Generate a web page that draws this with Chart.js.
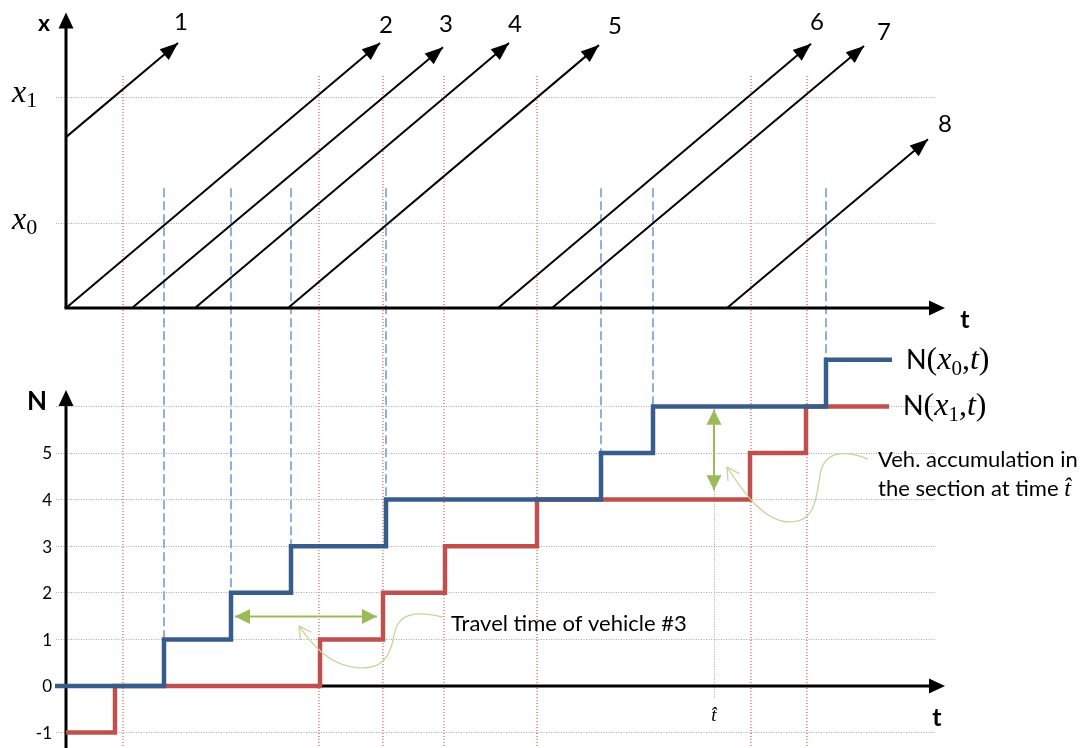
<!DOCTYPE html>
<html><head><meta charset="utf-8">
<script src="https://cdn.jsdelivr.net/npm/chart.js@4.4.1/dist/chart.umd.min.js"></script>
<style>html,body{margin:0;padding:0;background:#fff;}#wrap{position:relative;width:1089px;height:748px;}</style>
</head><body><div id="wrap"><canvas id="c" width="1089" height="748"></canvas></div>
<script>
// ---------------- data ----------------
const sectionSubs = ['0', '1'];
const sectionPos = [2, 5];                 // x0, x1 (space units)
const vehicleIds = ['1', '2', '3', '4', '5', '6', '7', '8'];
const vehStartT = [0, 0, 6.6, 12.9, 22.2, 43.2, 48.6, 66.1];
const vehStartX = [4.05, 0, 0, 0, 0, 0, 0, 0];
const vehEndT = [11.2, 31.4, 37.7, 44.3, 53.3, 74.5, 79.8, 86.2];
const vehEndX = [6.28, 6.28, 6.18, 6.28, 6.23, 6.26, 6.21, 4.0];
const upStepT = [-1.1, 9.8, 16.5, 22.5, 32.0, 53.5, 58.7, 76.0, 82.6];   // N(x0,t)
const upStepN = [0, 1, 2, 3, 4, 5, 6, 7, 7];
const downStepT = [0, 4.9, 25.4, 31.7, 37.9, 47.1, 68.4, 74.0, 82.3];  // N(x1,t)
const downStepN = [-1, 0, 1, 2, 3, 4, 5, 6, 6];
const x1CrossT = [5.7, 25.3, 31.7, 37.8, 47.1, 68.5, 74.1];
const nTicks = [-1, 0, 1, 2, 3, 4, 5, 6];
const nTickLabels = ['-1', '0', '1', '2', '3', '4', '5', ''];
const tHat = 64.8;
const accumArrowN = [4.2, 5.93];
const travelArrowT = [16.9, 31.1];
const travelArrowN = 1.49;
const travelText = 'Travel time of vehicle #3';
const accumText = ['Veh. accumulation in', 'the section at time '];

// ---------------- layout / style ----------------
const T_MIN = -1, T_MAX = 87;
const X_MIN = -0.675, X_MAX = 7.1, PX_PER_X = 42.2;
const N_MIN = -1.3, N_MAX = 7.5, PX_PER_N = 46.6;
const PAD_TOP = 8.4;
const topW = (X_MAX - X_MIN) * PX_PER_X;
const botW = (N_MAX - N_MIN) * PX_PER_N;
const PAD_BOTTOM = 748 - PAD_TOP - topW - botW;
const AXIS_T_END = 87.9, AXIS_X_END = 7.0, AXIS_N_END = 6.35;
const RED_TOP_X = 5.5, BLUE_TOP_X = 2.84;
const labelOffsets = [[3,-21],[6,-18],[3,-23],[6,-19],[16,-19],[6,-22],[20,-14],[17,-15]];
const travelCurve = [[37.7,1.48],[35.4,1.59],[33.2,1.63],[32.8,1.09],[32.4,0.56],[31.4,0.36],[29.2,0.39],[26.4,0.43],[24.6,0.88],[23.3,1.29]];
const accumCurve = [[80.2,4.87],[77.9,5.06],[75.8,5.06],[75.4,4.53],[75.0,3.88],[74.6,3.52],[72.4,3.52],[69.9,3.52],[67.9,4.10],[66.1,4.70]];

const BLUE = '#385D8A', RED = '#C0504D', GREEN = '#9BBB59', LGREEN = '#C3D69B';
const sans = 'Lato, "Open Sans", "Liberation Sans", sans-serif';
const serif = '"Liberation Serif", "DejaVu Serif", serif';

// ---------------- datasets ----------------
const datasets = [];
datasets.push({ id: 'accum', data: [{x: tHat, y: accumArrowN[0]}, {x: tHat, y: accumArrowN[1]}], yAxisID: 'yN', borderColor: GREEN, borderWidth: 2, arrows: 'both' });
datasets.push({ id: 'travel', data: [{x: travelArrowT[0], y: travelArrowN}, {x: travelArrowT[1], y: travelArrowN}], yAxisID: 'yN', borderColor: GREEN, borderWidth: 2, arrows: 'both' });
datasets.push({ id: 'up', data: upStepT.map((t, i) => ({x: t, y: upStepN[i]})), yAxisID: 'yN', borderColor: BLUE, borderWidth: 4.5, stepped: 'before' });
datasets.push({ id: 'down', data: downStepT.map((t, i) => ({x: t, y: downStepN[i]})), yAxisID: 'yN', borderColor: RED, borderWidth: 4.5, stepped: 'before' });
vehicleIds.forEach((v, i) => datasets.push({ id: 'veh' + v, data: [{x: vehStartT[i], y: vehStartX[i]}, {x: vehEndT[i], y: vehEndX[i]}], yAxisID: 'yX', borderColor: '#000', borderWidth: 2, vehicle: i }));
datasets.forEach(d => Object.assign(d, { xAxisID: 'x', pointRadius: 0, pointHoverRadius: 0, fill: false, clip: false, borderJoinStyle: 'miter', tension: 0 }));

// ---------------- helpers ----------------
function seg(ctx, x1, y1, x2, y2) { ctx.beginPath(); ctx.moveTo(x1, y1); ctx.lineTo(x2, y2); ctx.stroke(); }
function head(ctx, x1, y1, x2, y2, len, half, color) {
  const a = Math.atan2(y2 - y1, x2 - x1), c = Math.cos(a), s = Math.sin(a);
  ctx.fillStyle = color; ctx.beginPath(); ctx.moveTo(x2, y2);
  ctx.lineTo(x2 - len * c + half * s, y2 - len * s - half * c);
  ctx.lineTo(x2 - len * c - half * s, y2 - len * s + half * c);
  ctx.closePath(); ctx.fill();
}
function axisArrow(ctx, x1, y1, x2, y2) {
  const a = Math.atan2(y2 - y1, x2 - x1);
  ctx.strokeStyle = '#000'; ctx.lineWidth = 3; ctx.setLineDash([]);
  seg(ctx, x1, y1, x2 - 10 * Math.cos(a), y2 - 10 * Math.sin(a));
  head(ctx, x1, y1, x2, y2, 16, 7.5, '#000');
}
function rich(ctx, x, y, parts) {
  let cx = x; ctx.textAlign = 'left'; ctx.textBaseline = 'alphabetic';
  for (const [t, f, dy] of parts) { ctx.font = f; ctx.fillText(t, cx, y + (dy || 0)); cx += ctx.measureText(t).width; }
  return cx;
}
function curve(ctx, sx, sy, pts) {
  const P = pts.map(p => [sx.getPixelForValue(p[0]), sy.getPixelForValue(p[1])]);
  ctx.strokeStyle = LGREEN; ctx.lineWidth = 1.3; ctx.setLineDash([]);
  ctx.beginPath(); ctx.moveTo(P[0][0], P[0][1]);
  for (let i = 1; i + 2 < P.length; i += 3) ctx.bezierCurveTo(P[i][0], P[i][1], P[i+1][0], P[i+1][1], P[i+2][0], P[i+2][1]);
  ctx.stroke();
  const e = P[P.length - 1], c = P[P.length - 2];
  const a = Math.atan2(e[1] - c[1], e[0] - c[0]);
  [0.5, -0.5].forEach(d => seg(ctx, e[0], e[1], e[0] - 14 * Math.cos(a + d), e[1] - 14 * Math.sin(a + d)));
}

const diagram = {
  id: 'diagram',
  beforeDatasetsDraw(chart) {
    const {ctx} = chart, sx = chart.scales.x, sX = chart.scales.yX, sN = chart.scales.yN;
    ctx.save();
    ctx.strokeStyle = '#E59B9B'; ctx.lineWidth = 2; ctx.setLineDash([1, 2]);
    x1CrossT.forEach(t => { const p = Math.round(sx.getPixelForValue(t)); seg(ctx, p, sX.getPixelForValue(RED_TOP_X), p, chart.height); });
    ctx.strokeStyle = '#8EB0DA'; ctx.lineWidth = 2; ctx.setLineDash([9, 4]);
    for (let i = 1; i < upStepT.length - 1; i++) { const p = Math.round(sx.getPixelForValue(upStepT[i])); seg(ctx, p, sX.getPixelForValue(BLUE_TOP_X), p, sN.getPixelForValue(upStepN[i])); }
    ctx.strokeStyle = '#A6A6A6'; ctx.lineWidth = 1; ctx.setLineDash([1, 1.5]);
    const ph = Math.round(sx.getPixelForValue(tHat)) + 0.5;
    seg(ctx, ph, sN.getPixelForValue(6), ph, sN.getPixelForValue(-0.26));
    const o = sx.getPixelForValue(0), te = sx.getPixelForValue(AXIS_T_END);
    axisArrow(ctx, o, sX.getPixelForValue(0), o, sX.getPixelForValue(AXIS_X_END));
    axisArrow(ctx, o - 1.5, sX.getPixelForValue(0), te, sX.getPixelForValue(0));
    axisArrow(ctx, o, chart.height, o, sN.getPixelForValue(AXIS_N_END));
    axisArrow(ctx, o, sN.getPixelForValue(0), te, sN.getPixelForValue(0));
    ctx.restore();
  },
  afterDatasetsDraw(chart) {
    const {ctx} = chart;
    ctx.save();
    chart.data.datasets.forEach((d, i) => {
      const m = chart.getDatasetMeta(i), a = m.data[0], b = m.data[1];
      if (d.vehicle !== undefined) head(ctx, a.x, a.y, b.x, b.y, 18, 7, '#000');
      if (d.arrows === 'both') { head(ctx, a.x, a.y, b.x, b.y, 15, 7.5, GREEN); head(ctx, b.x, b.y, a.x, a.y, 15, 7.5, GREEN); }
    });
    ctx.restore();
  },
  afterDraw(chart) {
    const {ctx} = chart, sx = chart.scales.x, sX = chart.scales.yX, sN = chart.scales.yN;
    ctx.save();
    ctx.fillStyle = '#000';
    // vehicle numbers
    ctx.font = '24px ' + sans; ctx.textAlign = 'center'; ctx.textBaseline = 'middle';
    chart.data.datasets.forEach((d, i) => {
      if (d.vehicle === undefined) return;
      const p = chart.getDatasetMeta(i).data[1], off = labelOffsets[d.vehicle];
      ctx.fillText(vehicleIds[d.vehicle], p.x + off[0], p.y + off[1]);
    });
    const o = sx.getPixelForValue(0), te = sx.getPixelForValue(AXIS_T_END);
    // axis titles
    ctx.font = 'bold 23px ' + sans;
    ctx.fillText('x', o - 22, sX.getPixelForValue(AXIS_X_END) + 11);
    ctx.font = 'bold 25px ' + sans;
    ctx.fillText('t', te + 20, sX.getPixelForValue(0) + 12);
    ctx.fillText('t', te - 8, sN.getPixelForValue(0) + 32);
    ctx.font = 'bold 26px ' + sans;
    ctx.fillText('N', o - 29, sN.getPixelForValue(AXIS_N_END) + 12);
    // N tick labels
    ctx.font = '17px ' + sans; ctx.textAlign = 'right';
    nTicks.forEach((v, i) => ctx.fillText(nTickLabels[i], o - 14, sN.getPixelForValue(v) + 1));
    // section labels
    sectionPos.forEach((v, i) => {
      const y = sX.getPixelForValue(v) + 5;
      rich(ctx, 12, y, [['x', 'italic 32px ' + serif, 0], [sectionSubs[i], '22px ' + serif, 5]]);
    });
    // end labels
    const ends = [['up', '0'], ['down', '1']];
    ends.forEach(([id, sub]) => {
      const idx = chart.data.datasets.findIndex(d => d.id === id);
      const pts = chart.getDatasetMeta(idx).data, p = pts[pts.length - 1];
      rich(ctx, p.x + 14, p.y + 9, [['N', '27px ' + sans, 0], ['(', '32px ' + serif, 0], ['x', 'italic 32px ' + serif, 0], [sub, '21px ' + serif, 6], [',', '32px ' + serif, 0], ['t', 'italic 32px ' + serif, 0], [')', '32px ' + serif, 0]]);
    });
    // t-hat tick label
    ctx.font = 'italic 19px ' + serif; ctx.textAlign = 'center'; ctx.textBaseline = 'alphabetic';
    ctx.fillText('t\u0302', sx.getPixelForValue(tHat), sN.getPixelForValue(0) + 35);
    // annotations
    curve(ctx, sx, sN, travelCurve);
    curve(ctx, sx, sN, accumCurve);
    ctx.fillStyle = '#000';
    rich(ctx, sx.getPixelForValue(38.5), sN.getPixelForValue(1.18), [[travelText, '22px ' + sans, 0]]);
    rich(ctx, sx.getPixelForValue(81.2), sN.getPixelForValue(4.70), [[accumText[0], '22px ' + sans, 0]]);
    rich(ctx, sx.getPixelForValue(81.2), sN.getPixelForValue(4.08), [[accumText[1], '22px ' + sans, 0], ['t\u0302', 'italic 24px ' + serif, 0]]);
    ctx.restore();
  }
};

const gridOpts = { color: '#A6A6A6', lineWidth: 1, drawTicks: false };
new Chart(document.getElementById('c'), {
  type: 'line',
  data: { datasets },
  options: {
    responsive: false, animation: false, events: [], devicePixelRatio: 1,
    layout: { autoPadding: false, padding: { left: 56, right: 153, top: PAD_TOP, bottom: PAD_BOTTOM } },
    plugins: { legend: { display: false }, tooltip: { enabled: false } },
    scales: {
      x: { type: 'linear', min: T_MIN, max: T_MAX, display: false },
      yN: { type: 'linear', position: 'left', stack: 'panels', stackWeight: botW, weight: 0, min: N_MIN, max: N_MAX,
            afterBuildTicks: s => { s.ticks = nTicks.map(v => ({ value: v })); },
            ticks: { display: false }, grid: gridOpts, border: { display: false, dash: [1, 1.5] } },
      yX: { type: 'linear', position: 'left', stack: 'panels', stackWeight: topW, weight: 1, min: X_MIN, max: X_MAX,
            afterBuildTicks: s => { s.ticks = sectionPos.map(v => ({ value: v })); },
            ticks: { display: false }, grid: gridOpts, border: { display: false, dash: [1, 1.5] } }
    }
  },
  plugins: [diagram]
});
</script></body></html>
